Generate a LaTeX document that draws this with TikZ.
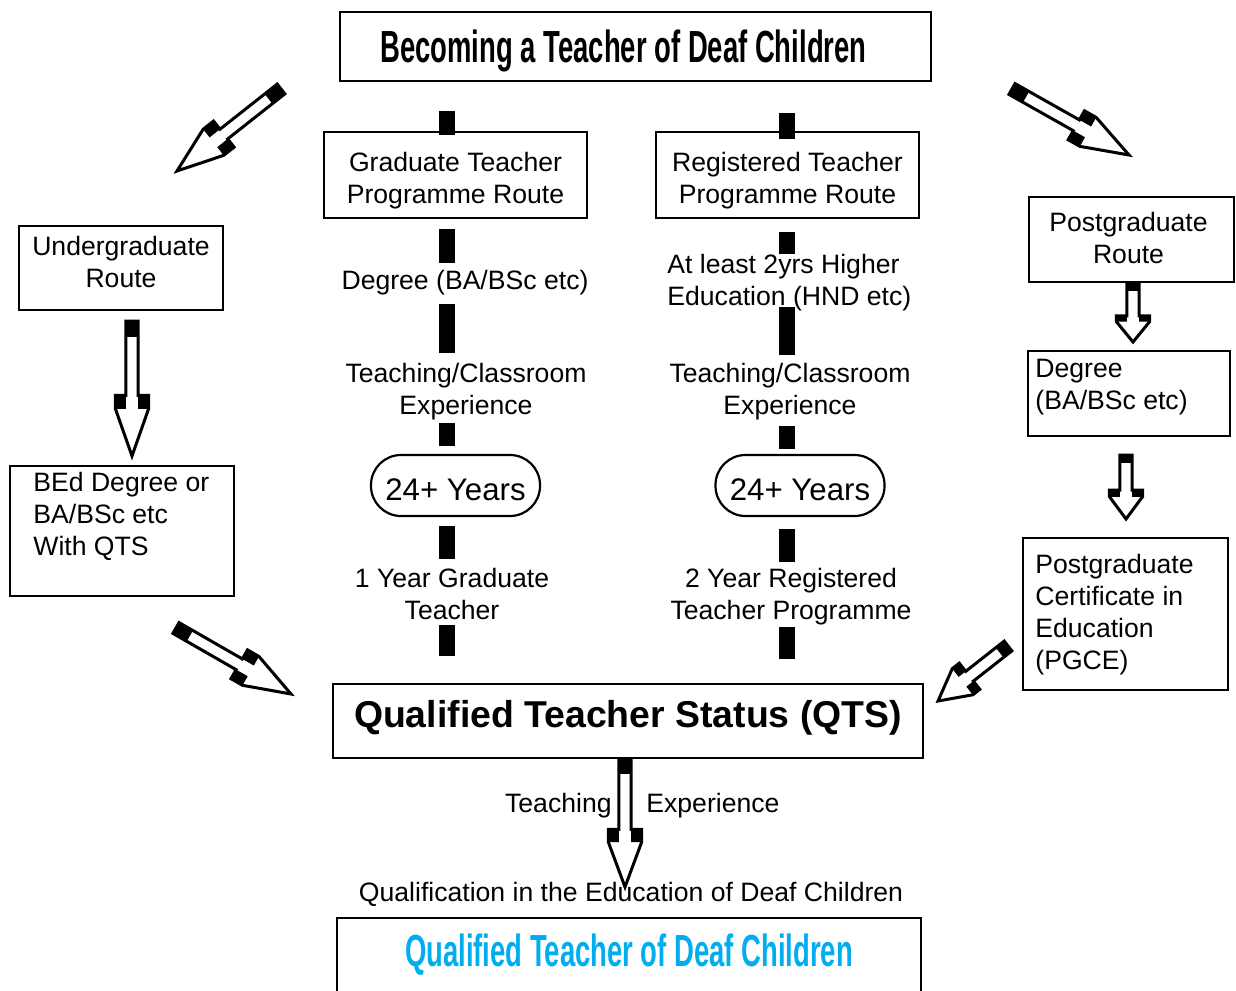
\documentclass[tikz,border=0pt]{standalone}
\usepackage{fontspec}
\setmainfont{Liberation Sans}
\newfontfamily\condfont[FakeStretch=0.61]{Liberation Sans}
\usetikzlibrary{calc}
\definecolor{qtdblue}{RGB}{0,174,239}
\tikzset{
  txt/.style={font=\fontsize{13.3pt}{16pt}\selectfont, align=center, inner sep=0pt},
  box/.style={draw, line width=1.2pt, txt},
  yearbox/.style={draw, line width=1.1pt, rounded corners=15pt, minimum width=84.5pt, minimum height=30.5pt, inner sep=0pt, text height=15pt, font=\fontsize{15.6pt}{18pt}\selectfont},
  bar/.style={line width=8pt},
  hollow/.style={line width=1.5pt, line join=miter},
}
% hollow block arrow from #1 (tail) to #2 (tip)
\newcommand{\hollowarrow}[2]{%
  \coordinate (ha0) at (#1);
  \coordinate (ha1) at ($(#1)!0.12!(#2)$);
  \coordinate (ha2) at ($(#1)!0.55!(#2)$);
  \coordinate (ha3) at ($(#1)!0.65!(#2)$);
  \coordinate (ha0l) at ($(ha0)!3.1pt!90:(#2)$);
  \coordinate (ha0r) at ($(ha0)!3.1pt!-90:(#2)$);
  \coordinate (ha1l) at ($(ha1)!3.1pt!90:(#2)$);
  \coordinate (ha1r) at ($(ha1)!3.1pt!-90:(#2)$);
  \coordinate (ha2l) at ($(ha2)!3.1pt!90:(#2)$);
  \coordinate (ha2r) at ($(ha2)!3.1pt!-90:(#2)$);
  \coordinate (ha3l) at ($(ha3)!3.1pt!90:(#2)$);
  \coordinate (ha3r) at ($(ha3)!3.1pt!-90:(#2)$);
  \coordinate (hb2l) at ($(ha2)!8.3pt!90:(#2)$);
  \coordinate (hb2r) at ($(ha2)!8.3pt!-90:(#2)$);
  \coordinate (hb3l) at ($(ha3)!8.3pt!90:(#2)$);
  \coordinate (hb3r) at ($(ha3)!8.3pt!-90:(#2)$);
  \fill (ha0l) -- (ha1l) -- (ha1r) -- (ha0r) -- cycle;
  \fill (ha2l) -- (hb2l) -- (hb3l) -- (ha3l) -- cycle;
  \fill (ha2r) -- (hb2r) -- (hb3r) -- (ha3r) -- cycle;
  \draw[hollow] (ha0l) -- (ha2l) -- (hb2l) -- (hb3l) -- (#2) -- (hb3r) -- (hb2r) -- (ha2r) -- (ha0r) -- cycle;
}

\begin{document}
\begin{tikzpicture}[x=0.5pt,y=-0.5pt]
\useasboundingbox (0,0) rectangle (1236,990);
\clip (0,0) rectangle (1236,990);

% boxes
\node[box, minimum width=295.5pt, minimum height=34.5pt, text depth=0pt, font=\condfont\bfseries\fontsize{22.5pt}{26pt}\selectfont] (title) at (635.5,46.5) {Becoming a Teacher of Deaf Children\hspace*{12pt}};
\node[box, minimum width=131.5pt, minimum height=43pt] (gt) at (455.5,175) {};
\node[txt, yshift=-3pt] (gttext) at (gt) {Graduate Teacher\\Programme Route};
\node[box, minimum width=131.5pt, minimum height=43pt] (rt) at (787.5,175) {};
\node[txt, yshift=-3pt] (rttext) at (rt) {Registered Teacher\\Programme Route};
\node[box, minimum width=102pt, minimum height=42pt] (ug) at (121,268) {};
\node[txt, yshift=3pt] (ugtext) at (ug) {Undergraduate\\Route};
\node[box, minimum width=102.5pt, minimum height=42.5pt] (pg) at (1131.5,239.5) {};
\node[txt, xshift=-1.5pt, yshift=1pt] (pgtext) at (pg) {Postgraduate\\Route};
\node[box, minimum width=101pt, minimum height=42.5pt] (deg) at (1129,393.5) {};
\node[txt, anchor=west, align=left] (degtext) at (1035,387) {Degree\\(BA/BSc etc)};
\node[box, minimum width=112pt, minimum height=65pt] (bed) at (122,531) {};
\node[txt, anchor=west, align=left] (bedtext) at (33,516) {BEd Degree or\\BA/BSc etc\\With QTS};
\node[box, minimum width=102.5pt, minimum height=76pt] (pgce) at (1125.5,614) {};
\node[txt, anchor=west, align=left] (pgcetext) at (1035,615) {Postgraduate\\Certificate in\\Education\\(PGCE)};
\node[box, minimum width=295pt, minimum height=37pt, text depth=7.5pt, font=\bfseries\fontsize{18.7pt}{22pt}\selectfont] (qts) at (628,721) {Qualified Teacher Status (QTS)};
\node[box, anchor=north, minimum width=292pt, text height=20pt, text depth=30pt, inner ysep=4pt, text=qtdblue, font=\condfont\bfseries\fontsize{22.5pt}{26pt}\selectfont] (qtd) at (629,917) {Qualified Teacher of Deaf Children};

% middle columns
\node[txt] (degL) at (465,283) {Degree (BA/BSc etc)};
\node[txt] (teachL) at (466,392) {Teaching/Classroom\\Experience};
\node[yearbox] (yrsL) at (455.5,485.5) {24+ Years};
\node[txt] (oneyr) at (452,594) {1 Year Graduate\\Teacher};
\node[txt, anchor=west, align=left] (hnd) at (667,283) {At least 2yrs Higher\\Education (HND etc)};
\node[txt] (teachR) at (790,392) {Teaching/Classroom\\Experience};
\node[yearbox] (yrsR) at (800,485.5) {24+ Years};
\node[txt] (tworeg) at (791,597) {2 Year Registered\\Teacher Programme};

\coordinate (colL) at (447,0);
\coordinate (colR) at (787,0);
\draw[bar] (title.south -| colL) ++(0,29) -- ++(0,24);
\draw[bar] (gt.south -| colL) ++(0,10) -- ++(0,34);
\draw[bar] (degL.center -| colL) ++(0,21) -- ++(0,49);
\draw[bar] (teachL.center -| colL) ++(0,31) -- ++(0,23);
\draw[bar] (yrsL.south -| colL) ++(0,9) -- ++(0,33);
\draw[bar] (qts.north -| colL) ++(0,-27) -- ++(0,-31);
\draw[bar] (title.south -| colR) ++(0,31) -- ++(0,26);
\draw[bar] (rt.south -| colR) ++(0,13) -- ++(0,22);
\draw[bar] (hnd.center -| colR) ++(0,24) -- ++(0,48);
\draw[bar] (teachR.center -| colR) ++(0,34) -- ++(0,23);
\draw[bar] (yrsR.south -| colR) ++(0,12) -- ++(0,33);
\draw[bar] (qts.north -| colR) ++(0,-24) -- ++(0,-32);

% hollow arrows
\coordinate (a1t) at (281,89);   \coordinate (a1h) at (177,171);
\coordinate (a2t) at (1012,89);  \coordinate (a2h) at (1129,155);
\coordinate (a3t) at (132,321);  \coordinate (a3h) at (132,456);
\coordinate (a4t) at (176,628);  \coordinate (a4h) at (291,694);
\coordinate (a5t) at (1133,284); \coordinate (a5h) at (1133,342);
\coordinate (a6t) at (1126,455); \coordinate (a6h) at (1126,519);
\coordinate (a7t) at (1008,646); \coordinate (a7h) at (938,701);
\coordinate (a8t) at (625,759);  \coordinate (a8h) at (625,887);
\hollowarrow{a1t}{a1h}
\hollowarrow{a2t}{a2h}
\hollowarrow{a3t}{a3h}
\hollowarrow{a4t}{a4h}
\hollowarrow{a5t}{a5h}
\hollowarrow{a6t}{a6h}
\hollowarrow{a7t}{a7h}
\hollowarrow{a8t}{a8h}

\node[txt, anchor=east] (teachq) at (612,806) {Teaching};
\node[txt, anchor=west] (expq) at (646,806) {Experience};
\node[txt] (qualq) at (631,894) {Qualification in the Education of Deaf Children};
\end{tikzpicture}
\end{document}
